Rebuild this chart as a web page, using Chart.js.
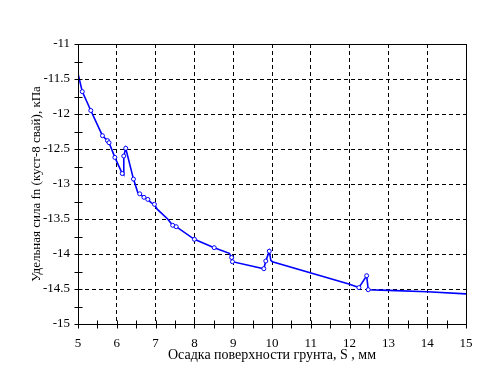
<!DOCTYPE html>
<html>
<head>
<meta charset="utf-8">
<script src="https://cdn.jsdelivr.net/npm/chart.js@4"></script>
<style>
  body { margin: 0; background: #fff; }
</style>
</head>
<body>
<canvas id="myChart" width="492" height="369"></canvas>
<script>
// settlement S, mm  /  specific force fn, kPa
const settlement = [5.00, 5.11, 5.33, 5.63, 5.76, 5.80, 5.95, 6.14, 6.18, 6.18, 6.23, 6.43, 6.54, 6.59, 6.70, 6.80, 6.89, 6.97, 7.04, 7.31, 7.44, 7.53, 8.00, 8.51, 8.90, 8.96, 8.98, 9.79, 9.84, 9.93, 9.97, 10.01, 11.98, 12.24, 12.44, 12.48, 13.00, 14.00, 15.00];
const force = [-11.42, -11.68, -11.95, -12.31, -12.38, -12.41, -12.62, -12.85, -12.87, -12.60, -12.49, -12.93, -13.12, -13.14, -13.19, -13.22, -13.27, -13.29, -13.36, -13.50, -13.59, -13.61, -13.79, -13.91, -13.99, -14.05, -14.11, -14.21, -14.10, -13.96, -14.09, -14.11, -14.43, -14.48, -14.31, -14.51, -14.52, -14.54, -14.57];
// 1 = point drawn with a small circle
const marked = [0,1,1,1,1,1,1,1,0,1,1,1,0,1,1,1,0,1,0,0,1,1,1,1,0,1,1,1,1,1,0,0,0,1,1,1,0,0,0];

const xTicks = [5, 6, 7, 8, 9, 10, 11, 12, 13, 14, 15];
const yTicks = [-15, -14.5, -14, -13.5, -13, -12.5, -12, -11.5, -11];
const xMinorStep = 0.5;
const yMinorStep = 0.25;

const points = [];
for (let n = 0; n < settlement.length; n++) {
    points.push({x: settlement[n], y: force[n]});
}

const font = {family: 'Liberation Serif', size: 13};
const titleFont = {family: 'Liberation Serif', size: 14};

// frame round the plot and ticks crossing the axes
const frame = {
    id: 'frame',
    afterDraw(chart) {
        const ctx = chart.ctx;
        const a = chart.chartArea;
        const x = chart.scales.x;
        const y = chart.scales.y;
        ctx.save();
        ctx.strokeStyle = '#000';
        ctx.lineWidth = 1;
        ctx.setLineDash([]);
        const l = Math.round(a.left) + 0.5, r = Math.round(a.right) + 0.5;
        const t = Math.round(a.top) + 0.5, b = Math.round(a.bottom) + 0.5;
        ctx.strokeRect(l, t, r - l, b - t);
        ctx.beginPath();
        for (let v = xTicks[0]; v <= xTicks[xTicks.length - 1] + 1e-9; v += xMinorStep) {
            const px = Math.round(x.getPixelForValue(v)) + 0.5;
            ctx.moveTo(px, b - 4);
            ctx.lineTo(px, b + 4);
        }
        for (let v = yTicks[0]; v <= yTicks[yTicks.length - 1] + 1e-9; v += yMinorStep) {
            const py = Math.round(y.getPixelForValue(v)) + 0.5;
            ctx.moveTo(l - 4, py);
            ctx.lineTo(l + 4, py);
        }
        ctx.stroke();
        ctx.restore();
    }
};

const myChart = new Chart(document.querySelector('#myChart').getContext('2d'), {
    type: 'scatter',
    data: {
        datasets: [{
            data: points,
            showLine: true,
            borderColor: '#0000ff',
            borderWidth: 1.6,
            pointRadius: marked.map(m => m ? 2 : 0),
            pointBorderWidth: 1,
            pointBorderColor: '#0000ff',
            pointBackgroundColor: '#ffffff',
            tension: 0
        }]
    },
    options: {
        responsive: false,
        animation: false,
        events: [],
        layout: {padding: {left: 0, top: 44, right: 26, bottom: 0}},
        plugins: {
            legend: {display: false},
            tooltip: {enabled: false}
        },
        scales: {
            x: {
                type: 'linear',
                min: 5,
                max: 15,
                afterBuildTicks: (s) => { s.ticks = xTicks.map(v => ({value: v})); },
                afterFit: (s) => { s.height = 45; },
                grid: {color: '#000', lineWidth: 1, drawTicks: false},
                border: {display: false, dash: [4, 3]},
                ticks: {color: '#000', font: font, padding: 12, maxRotation: 0, autoSkip: false},
                title: {
                    display: true,
                    text: 'Осадка поверхности грунта, S , мм',
                    color: '#000',
                    font: titleFont,
                    padding: {top: 0, bottom: 5}
                }
            },
            y: {
                type: 'linear',
                min: -15,
                max: -11,
                afterBuildTicks: (s) => { s.ticks = yTicks.map(v => ({value: v})); },
                afterFit: (s) => { s.width = 78; },
                grid: {color: '#000', lineWidth: 1, drawTicks: false},
                border: {display: false, dash: [4, 3]},
                ticks: {color: '#000', font: font, padding: 8, autoSkip: false,
                        callback: (v) => String(v)},
                title: {
                    display: true,
                    text: 'Удельная сила fn (куст-8 свай), кПа',
                    color: '#000',
                    font: font,
                    padding: {top: 29, bottom: 0}
                }
            }
        }
    },
    plugins: [frame]
});
</script>
</body>
</html>
